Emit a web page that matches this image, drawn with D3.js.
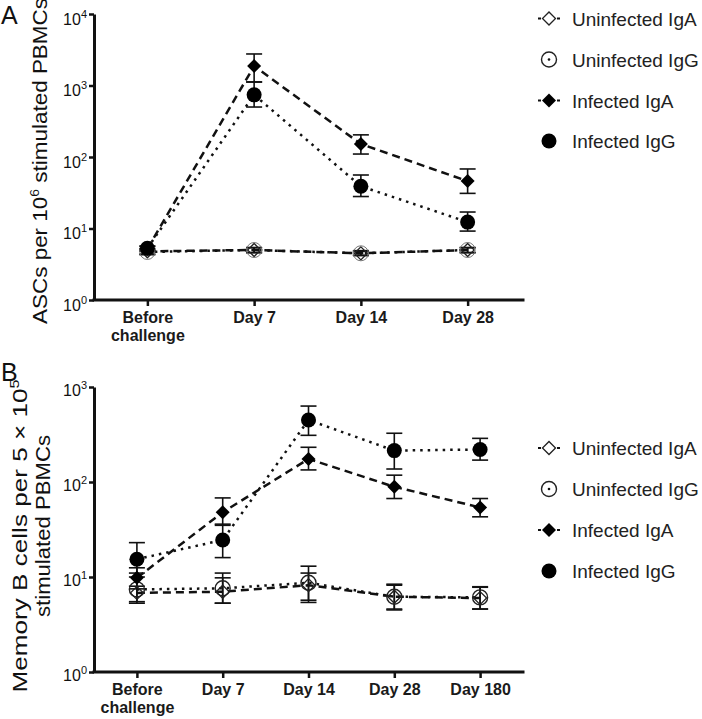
<!DOCTYPE html>
<html><head><meta charset="utf-8">
<script src="https://cdn.jsdelivr.net/npm/d3@7"></script>
<style>body{margin:0;background:#fff}svg{display:block}</style>
</head><body><svg id="c" width="702" height="719"></svg>
<script>
// ---------------- data ----------------
const seriesNames = ["Uninfected IgA", "Uninfected IgG", "Infected IgA", "Infected IgG"];

const categoriesA = ["Before\nchallenge", "Day 7", "Day 14", "Day 28"];
const aUninfIgA   = [4.8, 5.0, 4.5, 5.0];
const aUninfIgALo = [4.4, 4.6, 4.2, 4.6];
const aUninfIgAHi = [5.2, 5.4, 4.9, 5.4];
const aUninfIgG   = [4.7, 5.0, 4.5, 5.0];
const aUninfIgGLo = [4.3, 4.6, 4.2, 4.6];
const aUninfIgGHi = [5.1, 5.4, 4.8, 5.4];
const aInfIgA     = [5.2, 1870, 152, 46];
const aInfIgALo   = [4.8, 1120, 110, 31];
const aInfIgAHi   = [5.6, 2760, 204, 68];
const aInfIgG     = [5.3, 740, 39, 12.3];
const aInfIgGLo   = [4.9, 500, 28, 9.2];
const aInfIgGHi   = [5.7, 1120, 56, 17];
const ticksA = [1, 10, 100, 1000, 10000];

const categoriesB = ["Before\nchallenge", "Day 7", "Day 14", "Day 28", "Day 180"];
const bUninfIgA   = [6.8, 7.0, 8.2, 6.2, 6.0];
const bUninfIgALo = [5.3, 5.3, 5.4, 4.5, 4.6];
const bUninfIgAHi = [8.0, 9.8, 11, 8.2, 7.8];
const bUninfIgG   = [7.4, 7.6, 8.7, 6.2, 6.1];
const bUninfIgGLo = [5.5, 5.3, 5.7, 4.6, 4.6];
const bUninfIgGHi = [10, 11, 13, 8.4, 7.9];
const bInfIgA     = [9.8, 48, 175, 89, 54];
const bInfIgALo   = [7.5, 35, 134, 67, 43];
const bInfIgAHi   = [12.5, 68, 232, 118, 67];
const bInfIgG     = [15.4, 24.5, 450, 214, 220];
const bInfIgGLo   = [11, 16, 310, 137, 170];
const bInfIgGHi   = [23, 36, 630, 326, 288];
const ticksB = [1, 10, 100, 1000];

// ---------------- styles ----------------
const FONT = "'Liberation Sans', Arial, Helvetica, sans-serif";
const styles = {
  "Uninfected IgA": {shape: "diamond", filled: false, dash: "8 5"},
  "Uninfected IgG": {shape: "circle",  filled: false, dash: "2.5 5"},
  "Infected IgA":   {shape: "diamond", filled: true,  dash: "8 5"},
  "Infected IgG":   {shape: "circle",  filled: true,  dash: "2.5 5"}
};

const svg = d3.select("#c");
svg.append("rect").attr("width", 702).attr("height", 719).attr("fill", "#fff");

function marker(g, name, cx, cy, panel) {
  const st = styles[name];
  if (st.shape === "circle") {
    const c = g.append("circle").attr("cx", cx).attr("cy", cy).attr("r", 7.5);
    if (st.filled) c.attr("fill", "#000");
    else c.attr("fill", "none").attr("stroke", panel === "A" ? "#777" : "#222").attr("stroke-width", panel === "A" ? 1 : 1.4);
  } else {
    const s = st.filled ? 7 : 6.5;
    const sym = d3.symbol().type(d3.symbolSquare).size(2 * s * s);
    const p = g.append("path").attr("d", sym())
      .attr("transform", `translate(${cx},${cy}) rotate(45)`);
    if (st.filled) p.attr("fill", "#000");
    else p.attr("fill", "none").attr("stroke", "#222").attr("stroke-width", 1.3);
  }
}

function drawPanel(cfg) {
  const x = d3.scalePoint().domain(cfg.categories).range(cfg.xRange).padding(0.5);
  const y = d3.scaleLog().domain(cfg.yDomain).range(cfg.yRange);
  const g = svg.append("g");

  // axes
  const yAxis = d3.axisLeft(y).tickValues(cfg.ticks).tickSize(5).tickSizeOuter(0)
    .tickFormat(() => "");
  const gy = g.append("g").attr("transform", `translate(${cfg.xRange[0]},0)`).call(yAxis);
  gy.select(".domain").attr("stroke-width", 3).attr("stroke", "#111");
  gy.selectAll(".tick line").attr("stroke-width", 2.5).attr("stroke", "#111");
  gy.selectAll(".tick text").each(function(d) {
    const t = d3.select(this);
    t.text(null).attr("x", -7).attr("dy", cfg.tickDy)
      .attr("font-family", FONT).attr("font-size", 16).attr("fill", "#111");
    t.append("tspan").text("10");
    t.append("tspan").attr("font-size", 11).attr("dy", -7).text(Math.round(Math.log10(d)));
  });

  const xAxis = d3.axisBottom(x).tickSize(6).tickSizeOuter(0).tickFormat(() => "");
  const gx = g.append("g").attr("transform", `translate(0,${cfg.yRange[0]})`).call(xAxis);
  gx.select(".domain").attr("d", `M${cfg.xRange[0]},0H${cfg.xEnd}`)
    .attr("stroke-width", 3).attr("stroke", "#111").attr("stroke-linecap", "square");
  gx.selectAll(".tick line").attr("stroke-width", 2.5).attr("stroke", "#111");
  gx.selectAll(".tick text").each(function(d) {
    const t = d3.select(this);
    t.text(null).attr("dy", null).attr("y", null)
      .attr("font-family", FONT).attr("font-size", 16).attr("font-weight", "bold").attr("fill", "#1a1a1a");
    d.split("\n").forEach((line, i) => {
      t.append("tspan").attr("x", 0).attr("y", 23 + i * 18).text(line);
    });
  });

  // lines
  const line = d3.line().x(d => x(d.c)).y(d => y(d.v));
  const lineOrder = ["Uninfected IgA", "Uninfected IgG", "Infected IgA", "Infected IgG"];
  lineOrder.forEach(name => {
    const s = cfg.series[name];
    const pts = cfg.categories.map((c, i) => ({c, v: s.v[i]}));
    g.append("path").attr("d", line(pts)).attr("fill", "none")
      .attr("stroke", "#111").attr("stroke-width", 2.5)
      .attr("stroke-dasharray", styles[name].dash);
  });

  // error bars
  lineOrder.forEach(name => {
    const s = cfg.series[name];
    cfg.categories.forEach((c, i) => {
      const cx = x(c), y1 = y(s.lo[i]), y2 = y(s.hi[i]);
      const eg = g.append("g").attr("stroke", "#111").attr("stroke-width", 1.6);
      eg.append("line").attr("x1", cx).attr("x2", cx).attr("y1", y1).attr("y2", y2);
      eg.append("line").attr("x1", cx - 8).attr("x2", cx + 8).attr("y1", y1).attr("y2", y1);
      eg.append("line").attr("x1", cx - 8).attr("x2", cx + 8).attr("y1", y2).attr("y2", y2);
    });
  });

  // markers
  lineOrder.forEach(name => {
    const s = cfg.series[name];
    cfg.categories.forEach((c, i) => marker(g, name, x(c), y(s.v[i]), cfg.panel));
  });

  // legend
  seriesNames.forEach((name, i) => {
    const ly = cfg.legendY[i], lx = 549;
    const st = styles[name];
    if (st.shape === "diamond") {
      g.append("line").attr("x1", lx - 11).attr("x2", lx + 11).attr("y1", ly).attr("y2", ly)
        .attr("stroke", "#111").attr("stroke-width", 2).attr("stroke-dasharray", "3 16 3");
    } else if (!st.filled) {
      g.append("circle").attr("cx", lx).attr("cy", ly).attr("r", 1.3).attr("fill", "#111");
    }
    marker(g, name, lx, ly, "L");
    g.append("text").attr("x", 572).attr("y", ly + 7).text(name)
      .attr("font-family", FONT).attr("font-size", 19).attr("fill", "#222");
  });

  // panel letter
  g.append("text").attr("x", 1).attr("y", cfg.letterY).text(cfg.letter)
    .attr("font-family", FONT).attr("font-size", 25).attr("fill", "#111");
}

drawPanel({
  panel: "A", letter: "A", letterY: 24,
  categories: categoriesA, xRange: [94, 521], xEnd: 523,
  yDomain: [1, 1e4], yRange: [300, 14], ticks: ticksA, tickDy: 10,
  legendY: [18.5, 59.5, 100.5, 141],
  series: {
    "Uninfected IgA": {v: aUninfIgA, lo: aUninfIgALo, hi: aUninfIgAHi},
    "Uninfected IgG": {v: aUninfIgG, lo: aUninfIgGLo, hi: aUninfIgGHi},
    "Infected IgA":   {v: aInfIgA, lo: aInfIgALo, hi: aInfIgAHi},
    "Infected IgG":   {v: aInfIgG, lo: aInfIgGLo, hi: aInfIgGHi}
  }
});

drawPanel({
  panel: "B", letter: "B", letterY: 381,
  categories: categoriesB, xRange: [94, 523], xEnd: 523,
  yDomain: [1, 1e3], yRange: [672, 387], ticks: ticksB, tickDy: 8,
  legendY: [448, 489, 530, 571],
  series: {
    "Uninfected IgA": {v: bUninfIgA, lo: bUninfIgALo, hi: bUninfIgAHi},
    "Uninfected IgG": {v: bUninfIgG, lo: bUninfIgGLo, hi: bUninfIgGHi},
    "Infected IgA":   {v: bInfIgA, lo: bInfIgALo, hi: bInfIgAHi},
    "Infected IgG":   {v: bInfIgG, lo: bInfIgGLo, hi: bInfIgGHi}
  }
});

// y-axis titles
function title(xPos, yPos, len, parts) {
  const t = svg.append("text").attr("transform", `translate(${xPos},${yPos}) rotate(-90)`)
    .attr("text-anchor", "middle").attr("font-family", FONT).attr("font-size", 21)
    .attr("fill", "#111").attr("textLength", len).attr("lengthAdjust", "spacingAndGlyphs");
  parts.forEach(p => {
    const ts = t.append("tspan").text(p.t);
    if (p.sup) ts.attr("font-size", 13).attr("dy", -8);
    if (p.after) ts.attr("dy", 8);
  });
}
title(47, 161, 326, [{t: "ASCs per 10"}, {t: "6", sup: true}, {t: " stimulated PBMCs", after: true}]);
title(27, 536, 313, [{t: "Memory B cells per 5 × 10"}, {t: "5", sup: true}]);
title(50, 526, 182, [{t: "stimulated PBMCs"}]);
</script>
</body></html>
